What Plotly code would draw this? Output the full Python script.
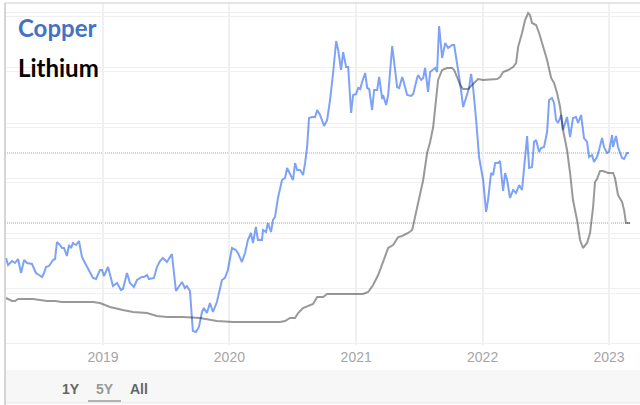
import pandas as pd
import plotly.graph_objects as go

# ---- data ----
# time in decimal years
copper_t = [2018.233, 2018.249, 2018.281, 2018.304, 2018.328, 2018.352, 2018.376, 2018.399, 2018.439, 2018.470,
            2018.494, 2018.518, 2018.534, 2018.549, 2018.573, 2018.605, 2018.621, 2018.636, 2018.660, 2018.676,
            2018.692, 2018.715, 2018.731, 2018.747, 2018.763, 2018.787, 2018.810, 2018.834, 2018.858, 2018.881,
            2018.921, 2018.945, 2018.976, 2018.992, 2019.008, 2019.040, 2019.079, 2019.111, 2019.142, 2019.158,
            2019.190, 2019.213, 2019.245, 2019.269, 2019.308, 2019.324, 2019.348, 2019.364, 2019.403, 2019.427,
            2019.451, 2019.474, 2019.506, 2019.545, 2019.577, 2019.625, 2019.648, 2019.664, 2019.688, 2019.711,
            2019.735, 2019.759, 2019.783, 2019.798, 2019.822, 2019.846, 2019.870, 2019.901, 2019.941, 2019.964,
            2019.988, 2020.020, 2020.051, 2020.067, 2020.099, 2020.123, 2020.146, 2020.170, 2020.186, 2020.209,
            2020.225, 2020.257, 2020.265, 2020.289, 2020.304, 2020.328, 2020.344, 2020.360, 2020.383, 2020.415,
            2020.439, 2020.455, 2020.486, 2020.502, 2020.518, 2020.534, 2020.557, 2020.581, 2020.597, 2020.613,
            2020.628, 2020.652, 2020.676, 2020.692, 2020.715, 2020.747, 2020.771, 2020.794, 2020.818, 2020.842,
            2020.858, 2020.881, 2020.897, 2020.921, 2020.937, 2020.960, 2020.976, 2021.000, 2021.016, 2021.032,
            2021.047, 2021.071, 2021.087, 2021.103, 2021.126, 2021.142, 2021.166, 2021.182, 2021.206, 2021.213,
            2021.237, 2021.253, 2021.285, 2021.300, 2021.324, 2021.340, 2021.364, 2021.372, 2021.403, 2021.435,
            2021.451, 2021.482, 2021.490, 2021.514, 2021.530, 2021.545, 2021.569, 2021.585, 2021.625, 2021.640,
            2021.656, 2021.680, 2021.704, 2021.727, 2021.759, 2021.775, 2021.798, 2021.822, 2021.846, 2021.877,
            2021.893, 2021.909, 2021.925, 2021.949, 2021.972, 2022.004, 2022.028, 2022.043, 2022.067, 2022.083,
            2022.099, 2022.123, 2022.138, 2022.162, 2022.178, 2022.194, 2022.217, 2022.241, 2022.265, 2022.289,
            2022.312, 2022.352, 2022.368, 2022.391, 2022.407, 2022.423, 2022.447, 2022.462, 2022.486, 2022.510,
            2022.526, 2022.549, 2022.565, 2022.581, 2022.597, 2022.621, 2022.636, 2022.668, 2022.692, 2022.715,
            2022.739, 2022.755, 2022.779, 2022.802, 2022.826, 2022.842, 2022.866, 2022.881, 2022.905, 2022.921,
            2022.945, 2022.960, 2022.984, 2023.000, 2023.024, 2023.032, 2023.055, 2023.071, 2023.103, 2023.119,
            2023.142, 2023.158]
copper_price = [6480, 6340, 6420, 6380, 6460, 6180, 6440, 6380, 6360, 6180,
                6140, 6100, 6180, 6300, 6320, 6440, 6460, 6800, 6740, 6680,
                6680, 6520, 6740, 6680, 6780, 6740, 6820, 6500, 6380, 6260,
                6080, 6060, 6240, 6240, 6120, 6300, 5920, 5980, 5840, 5860,
                6180, 5980, 5900, 6040, 6100, 6100, 6140, 6060, 6080, 6300,
                6420, 6480, 6400, 6560, 5820, 6000, 5880, 5920, 5820, 5020,
                5000, 5100, 5400, 5480, 5380, 5580, 5400, 5600, 6040, 6080,
                6240, 6680, 6640, 6580, 6400, 6580, 6840, 6980, 6780, 7100,
                6840, 6840, 7040, 7000, 7180, 7000, 7240, 7300, 7680, 8040,
                8080, 8280, 8100, 8040, 8380, 8240, 8240, 8140, 8380, 8700,
                9280, 9300, 9300, 9440, 9340, 9120, 9240, 9640, 10180, 10820,
                10640, 10240, 10600, 10300, 10300, 9380, 9740, 9760, 9880, 9860,
                10000, 10180, 9880, 9860, 9440, 9840, 9840, 10100, 9660, 9740,
                9540, 9740, 10720, 10380, 9900, 9880, 10100, 10040, 9740, 9720,
                9760, 10080, 10140, 10040, 10080, 10280, 9800, 10200, 10280, 10200,
                11120, 10480, 10780, 10680, 10740, 10740, 10380, 9980, 9500, 9740,
                9880, 10160, 9880, 9240, 8500, 8040, 7400, 7640, 8180, 8140,
                8380, 8380, 8420, 7820, 8180, 8040, 7680, 7840, 7780, 7940,
                7840, 8920, 8280, 8300, 8800, 8840, 8600, 8680, 8700, 9000,
                9640, 9680, 9580, 9240, 9180, 9340, 9040, 9300, 8900, 9280,
                9300, 9180, 9340, 8880, 8800, 8500, 8540, 8400, 8500, 8640,
                8880, 8700, 8580, 8600, 8940, 8700, 8920, 8700, 8480, 8460,
                8580, 8580]

lithium_t = [2018.233, 2018.281, 2018.304, 2018.328, 2018.447, 2018.526, 2018.557, 2018.621, 2018.676, 2018.794,
             2018.921, 2018.976, 2019.055, 2019.158, 2019.237, 2019.348, 2019.427, 2019.506, 2019.632, 2019.767,
             2019.901, 2020.028, 2020.399, 2020.439, 2020.478, 2020.518, 2020.542, 2020.581, 2020.621, 2020.660,
             2020.692, 2020.739, 2020.771, 2021.055, 2021.095, 2021.134, 2021.174, 2021.213, 2021.253, 2021.292,
             2021.332, 2021.364, 2021.411, 2021.443, 2021.466, 2021.498, 2021.530, 2021.561, 2021.585, 2021.609,
             2021.632, 2021.648, 2021.680, 2021.719, 2021.759, 2021.775, 2021.798, 2021.822, 2021.846, 2021.885,
             2021.925, 2021.964, 2022.004, 2022.115, 2022.138, 2022.162, 2022.202, 2022.241, 2022.265, 2022.281,
             2022.312, 2022.336, 2022.360, 2022.375, 2022.391, 2022.423, 2022.447, 2022.478, 2022.510, 2022.542,
             2022.565, 2022.589, 2022.613, 2022.636, 2022.668, 2022.692, 2022.715, 2022.747, 2022.771, 2022.794,
             2022.810, 2022.826, 2022.850, 2022.874, 2022.889, 2022.905, 2022.929, 2022.953, 2022.992, 2023.032,
             2023.047, 2023.071, 2023.103, 2023.119, 2023.134, 2023.166]
lithium_price = [13.0, 12.25, 12.25, 12.75, 12.75, 12.5, 12.25, 12.25, 12.0, 12.0,
                 12.0, 11.75, 10.75, 10.0, 9.5, 9.25, 8.5, 8.25, 8.25, 8.0,
                 7.25, 7.0, 7.0, 7.25, 8.0, 8.0, 9.25, 10.5, 11.0, 11.5,
                 13.25, 13.25, 14.0, 14.0, 14.5, 16.25, 18.75, 22.0, 25.5, 26.25,
                 28.25, 28.5, 29.25, 30.0, 33.25, 37.5, 42.5, 49.25, 52.0, 55.75,
                 62.5, 67.5, 70.0, 70.5, 70.5, 70.0, 68.25, 66.25, 65.25, 65.25,
                 66.5, 67.75, 67.5, 67.75, 68.25, 69.5, 70.0, 70.75, 71.75, 75.75,
                 79.25, 82.5, 84.25, 83.75, 81.75, 81.25, 79.25, 75.75, 72.5, 68.0,
                 66.75, 64.25, 60.75, 55.0, 50.0, 44.25, 37.5, 32.5, 27.5, 25.5,
                 26.0, 26.75, 29.25, 35.75, 42.0, 42.75, 44.75, 44.75, 44.25, 44.25,
                 43.0, 38.75, 37.0, 35.0, 31.75, 31.75]

year_ticks = ["2019", "2020", "2021", "2022", "2023"]
range_buttons = ["1Y", "5Y", "All"]
series_names = ["Copper", "Lithium"]
view_start, view_end = 2018.225, 2023.245


def to_date(t):
    y = int(t)
    a = pd.Timestamp(year=y, month=1, day=1)
    b = pd.Timestamp(year=y + 1, month=1, day=1)
    return a + (b - a) * (t - y)


copper_x = [to_date(t) for t in copper_t]
lithium_x = [to_date(t) for t in lithium_t]
x_start = to_date(view_start)

fig = go.Figure()
fig.add_trace(go.Scatter(x=lithium_x, y=lithium_price, yaxis="y2", mode="lines",
                         line=dict(color="rgba(0,0,0,0.40)", width=2), name="Lithium"))
fig.add_trace(go.Scatter(x=copper_x, y=copper_price, mode="lines",
                         line=dict(color="rgba(40,100,240,0.60)", width=2), name="Copper"))

# last-value dotted lines
fig.add_shape(type="line", xref="x", yref="y", x0=x_start, x1=copper_x[-1],
              y0=copper_price[-1], y1=copper_price[-1],
              line=dict(color="#82a8f6", width=1, dash="1px,1px"), layer="below")
fig.add_shape(type="line", xref="x", yref="y2", x0=x_start, x1=lithium_x[-1],
              y0=lithium_price[-1], y1=lithium_price[-1],
              line=dict(color="#a0a0a0", width=1, dash="1px,1px"), layer="below")

H = 342.0  # plot height in px
def py(px):
    return (345 - px) / H

# range selector band
fig.add_shape(type="rect", xref="paper", yref="paper", x0=0, x1=1, y0=py(403), y1=py(370),
              fillcolor="#f7f7f7", line=dict(width=0), layer="below")
fig.add_shape(type="line", xref="paper", yref="paper", x0=0, x1=1, y0=py(403), y1=py(403),
              line=dict(color="#e8e8e8", width=1))
# borders
fig.add_shape(type="line", xref="paper", yref="paper", x0=0, x1=1, y0=1, y1=1,
              line=dict(color="#dcdcdc", width=1.5))
fig.add_shape(type="line", xref="paper", yref="paper", x0=0, x1=0, y0=py(405), y1=1,
              line=dict(color="#c8c8c8", width=1.5))

W = 635.0
def px_(x):
    return (x - 5) / W

btn_x = [71, 105, 139]
btn_col = ["#666666", "#999999", "#666666"]
for lab, bx, col in zip(range_buttons, btn_x, btn_col):
    fig.add_annotation(text=f"<b>{lab}</b>", x=px_(bx), y=py(389), xref="paper", yref="paper",
                       showarrow=False, xanchor="center", yanchor="middle",
                       font=dict(family="Liberation Sans, Arial", size=14, color=col))
fig.add_shape(type="line", xref="paper", yref="paper", x0=px_(88), x1=px_(121), y0=py(401), y1=py(401),
              line=dict(color="#999999", width=1.5))

fig.add_annotation(text=f"<b>{series_names[0]}</b>", x=px_(16), y=py(27), xref="paper", yref="paper",
                   showarrow=False, xanchor="left", yanchor="middle",
                   font=dict(family="Lato", size=24, color="#4472c4"))
fig.add_annotation(text=f"<b>{series_names[1]}</b>", x=px_(16), y=py(67), xref="paper", yref="paper",
                   showarrow=False, xanchor="left", yanchor="middle",
                   font=dict(family="Lato", size=24, color="#000000"))

fig.update_layout(
    width=640, height=405,
    margin=dict(l=5, r=0, t=3, b=60),
    paper_bgcolor="white", plot_bgcolor="white",
    showlegend=False,
    xaxis=dict(type="date", range=[x_start, to_date(view_end)],
               tickvals=[pd.Timestamp(f"{y}-01-01") for y in year_ticks], ticktext=year_ticks,
               showgrid=True, gridcolor="#f0f0f0", gridwidth=1.5, zeroline=False, showline=False,
               ticks="", ticklabelstandoff=2,
               tickfont=dict(family="Liberation Sans, Arial", size=14, color="#a6a6a6")),
    yaxis=dict(range=[4740, 11580], tickvals=[4780, 5880, 6980, 8080, 9180, 10300, 11400],
               showticklabels=False, showgrid=True, gridcolor="#f0f0f0", gridwidth=1,
               zeroline=False, showline=False),
    yaxis2=dict(range=[1.25, 86.75], overlaying="y", side="right",
                tickvals=[14.25, 28, 42, 55.75, 69.75, 83.5],
                showticklabels=False, showgrid=True, gridcolor="#f0f0f0", gridwidth=1,
                zeroline=False, showline=False),
)

fig.write_html("out.html")
